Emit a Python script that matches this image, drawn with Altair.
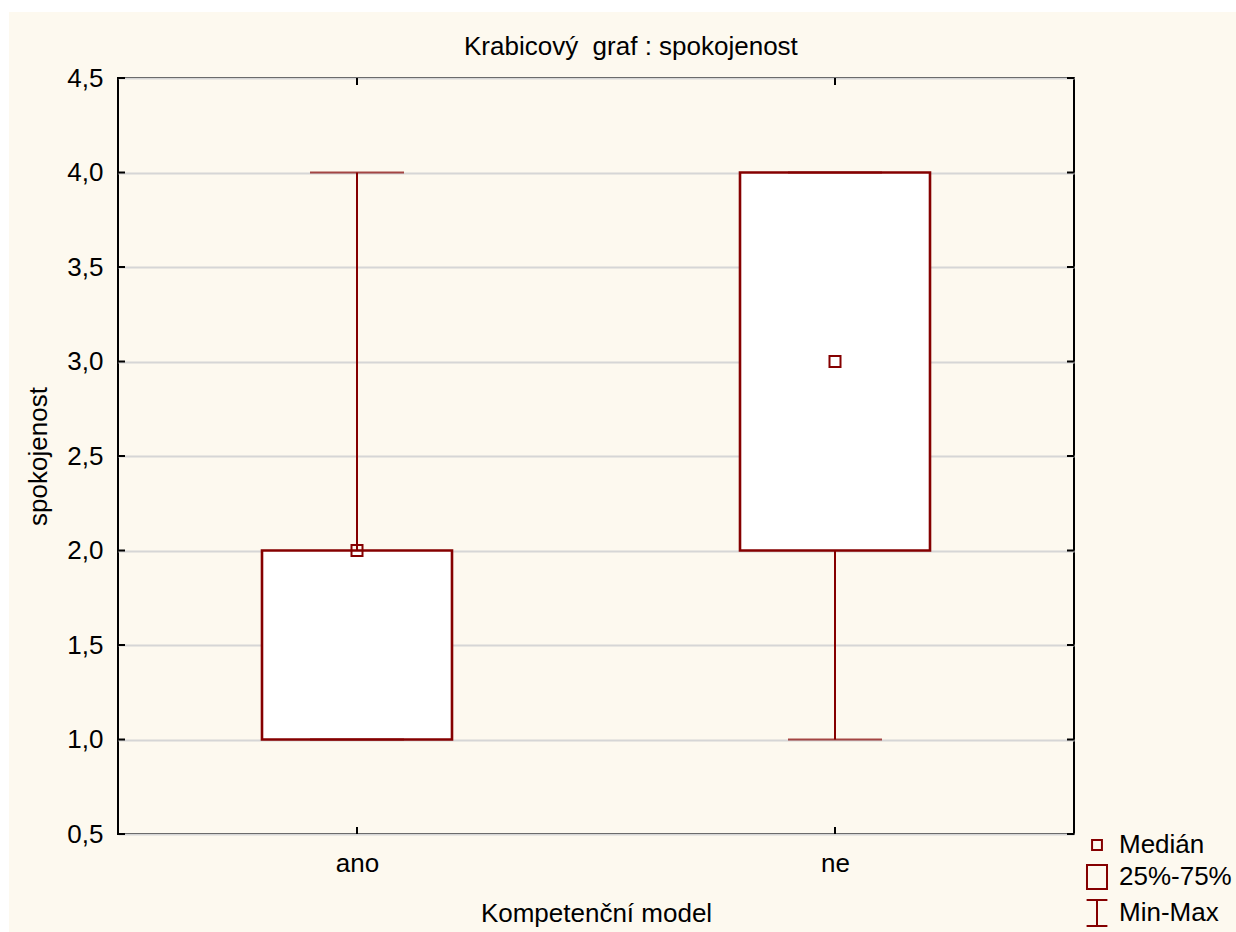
import altair as alt
import pandas as pd

# Box-plot summary per group
categories = ["ano", "ne"]
mins = [1.0, 1.0]
q1 = [1.0, 2.0]
medians = [2.0, 3.0]
q3 = [2.0, 4.0]
maxs = [4.0, 4.0]

y_ticks = [0.5, 1.0, 1.5, 2.0, 2.5, 3.0, 3.5, 4.0, 4.5]
legend_labels = ["Medián", "25%-75%", "Min-Max"]
title_text = "Krabicový\u00a0 graf : spokojenost"

DARK_RED = "#850000"
FONT = "Liberation Sans"
FS = 26
W, H = 956, 756

summary = pd.DataFrame({
    "skupina": categories, "min": mins, "q1": q1,
    "median": medians, "q3": q3, "max": maxs,
})
ticks_df = pd.DataFrame({"v": y_ticks})
cats_df = pd.DataFrame({"skupina": categories})
legend_df = pd.DataFrame({"label": legend_labels})
title_df = pd.DataFrame({"t": [title_text]})
dummy = pd.DataFrame({"k": [0]})

x_scale = alt.Scale(type="point", padding=0.5, domain=categories)
y_scale = alt.Scale(domain=[0.5, 4.5], nice=False, zero=False)

x_axis = alt.Axis(
    labelPadding=37, labelBaseline="alphabetic", labelAngle=0,
    titleX=478, titleY=87, titleBaseline="alphabetic",
)
y_axis = alt.Axis(
    values=y_ticks, grid=True, gridColor="#d6d6d6", gridWidth=2,
    labelPadding=15,
    labelExpr="replace(format(datum.value, '.1f'), '.', ',')",
    titleX=-72, titleY=378, titleBaseline="alphabetic", titleAngle=-90,
)

X = alt.X("skupina:N", scale=x_scale, axis=x_axis, title="Kompetenční model")


def Y(field):
    return alt.Y(field, type="quantitative", scale=y_scale, axis=y_axis,
                 title="spokojenost")


# white strips around the cream frame
strip_left = alt.Chart(dummy).mark_rect(color="white").encode(
    x=alt.value(-118), x2=alt.value(-109), y=alt.value(-78), y2=alt.value(H + 98)
)
strip_top = alt.Chart(dummy).mark_rect(color="white").encode(
    x=alt.value(-118), x2=alt.value(W + 162), y=alt.value(-78), y2=alt.value(-66)
)

# chart heading
heading = alt.Chart(title_df).mark_text(
    align="left", baseline="alphabetic", font=FONT, fontSize=FS, color="black"
).encode(x=alt.value(346), y=alt.value(-23), text="t:N")

whisker = alt.Chart(summary).mark_rule(color=DARK_RED, strokeWidth=2).encode(
    x=X, y=Y("min"), y2="max"
)
box = alt.Chart(summary).mark_bar(
    size=190, fill="white", stroke=DARK_RED, strokeWidth=2.6
).encode(x=X, y=Y("q1"), y2="q3")
cap_lo = alt.Chart(summary).mark_tick(
    size=94, thickness=2, orient="horizontal", color=DARK_RED
).encode(x=X, y=Y("min"))
cap_hi = alt.Chart(summary).mark_tick(
    size=94, thickness=2, orient="horizontal", color=DARK_RED
).encode(x=X, y=Y("max"))
median = alt.Chart(summary).mark_point(
    shape="square", size=121, filled=False, strokeWidth=2, color=DARK_RED, opacity=1
).encode(x=X, y=Y("median"))

# inward tick marks on all four sides
tick_l = alt.Chart(ticks_df).mark_rule(color="black", strokeWidth=2).encode(
    x=alt.value(0), x2=alt.value(7), y=Y("v")
)
tick_r = alt.Chart(ticks_df).mark_rule(color="black", strokeWidth=2).encode(
    x=alt.value(W - 7), x2=alt.value(W), y=Y("v")
)
tick_b = alt.Chart(cats_df).mark_rule(color="black", strokeWidth=2).encode(
    x=X, y=alt.value(H - 7), y2=alt.value(H)
)
tick_t = alt.Chart(cats_df).mark_rule(color="black", strokeWidth=2).encode(
    x=X, y=alt.value(0), y2=alt.value(7)
)

legend_paths = [
    "M-0.38,-0.38H0.38V0.38H-0.38Z",
    "M-0.77,-0.92H0.77V0.92H-0.77Z",
    "M-0.8,-1H0.8M0,-1V1M-0.8,1H0.8",
]
legend_layer = alt.Chart(legend_df).mark_point(opacity=0, filled=False).encode(
    shape=alt.Shape(
        "label:N",
        scale=alt.Scale(domain=legend_labels, range=legend_paths),
        legend=alt.Legend(
            title=None, orient="none", legendX=965, legendY=753, padding=0,
            symbolSize=676, symbolStrokeColor=DARK_RED, symbolStrokeWidth=2,
            symbolFillColor="transparent", symbolOpacity=1,
            labelFont=FONT, labelFontSize=FS, labelColor="black",
            labelOffset=8, rowPadding=3,
        ),
    )
)

chart = alt.layer(
    strip_left, strip_top, heading, whisker, box, cap_lo, cap_hi, median,
    tick_l, tick_r, tick_b, tick_t, legend_layer,
).properties(
    width=W, height=H,
    background="#FDF9EF",
    padding={"left": 118, "top": 78, "right": 162, "bottom": 98},
    autosize=alt.AutoSizeParams(type="none"),
).configure_view(
    stroke="black", strokeWidth=2, fill="white"
).configure_axis(
    domain=False, ticks=False, tickSize=0,
    labelFont=FONT, labelFontSize=FS, labelColor="black",
    titleFont=FONT, titleFontSize=FS, titleColor="black", titleFontWeight="normal",
)

chart.save("out.html", embed_options={"renderer": "svg", "actions": False})
